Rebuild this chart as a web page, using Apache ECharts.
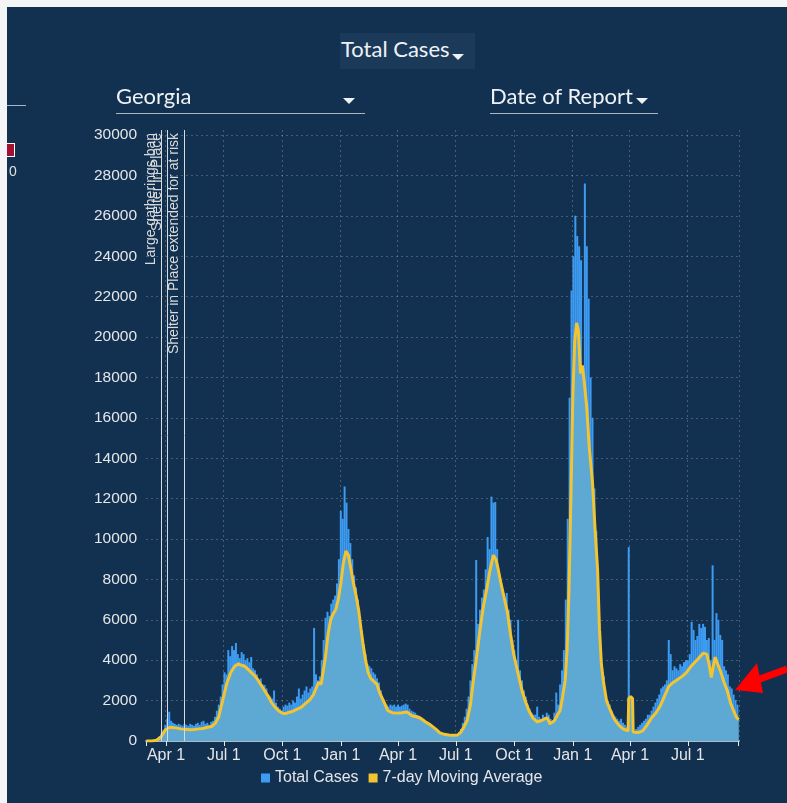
<!DOCTYPE html>
<html><head><meta charset="utf-8">
<script src="https://cdn.jsdelivr.net/npm/echarts@6/dist/echarts.min.js"></script>
<style>
html,body{margin:0;padding:0;background:#12304f;overflow:hidden;width:787px;height:803px;}
#chart{position:absolute;left:0;top:0;width:787px;height:803px;}
.strip{position:absolute;background:#f3f5f7;}
.ctl{position:absolute;font-family:Lato,sans-serif;color:#eef2f6;font-size:22px;line-height:1;white-space:nowrap;}
.tri{position:absolute;width:0;height:0;border-left:6px solid transparent;border-right:6px solid transparent;border-top:6px solid #eef2f6;}
.uline{position:absolute;height:1px;background:#a9b6c4;}
</style></head><body>
<div id="chart"></div>
<div class="strip" style="left:0;top:0;width:787px;height:7px;"></div>
<div class="strip" style="left:0;top:0;width:7px;height:803px;"></div>
<div style="position:absolute;left:340px;top:33px;width:135px;height:36px;background:#1b3a59;"></div>
<div class="ctl" style="left:341px;top:38px;">Total Cases</div>
<div class="tri" style="left:452px;top:54px;"></div>
<div class="ctl" style="left:116px;top:85px;">Georgia</div>
<div class="tri" style="left:343px;top:98px;"></div>
<div class="uline" style="left:116px;top:113px;width:249px;"></div>
<div class="ctl" style="left:490px;top:85px;">Date of Report</div>
<div class="tri" style="left:636px;top:98px;"></div>
<div class="uline" style="left:490px;top:113px;width:168px;"></div>
<div class="uline" style="left:7px;top:105px;width:19px;"></div>
<div style="position:absolute;left:7px;top:143px;width:7px;height:12px;background:#a3112e;border:1px solid #fff;border-left:none;"></div>
<div style="position:absolute;left:9px;top:163px;font:14px 'Liberation Sans',Arial,sans-serif;color:#e0e0e0;">0</div>
<svg style="position:absolute;left:0;top:0;" width="787" height="803">
  <line x1="787" y1="669" x2="752" y2="682" stroke="#ff0000" stroke-width="7"/>
  <polygon points="735,690 757,663 763,693" fill="#ff0000"/>
</svg>
<script>
// ---- data ----
const firstDate = '2020-03-01';
const lastDate = '2022-09-19';
const barStepDays = 3; // one bar value every 3 days starting at firstDate
const totalCases = [
  0, 0, 2, 8, 30, 60, 150, 250, 400, 550, 800,
  1100, 1450, 1000, 900, 850, 800, 850, 800, 750, 850,
  800, 750, 850, 800, 750, 850, 900, 800, 950, 1000,
  850, 900, 800, 950, 1000, 1200, 1500, 1800, 2200, 2800,
  3400, 3300, 4500, 4200, 4700, 4500, 4850, 4300, 4100, 4400,
  4300, 4000, 4100, 3900, 4160, 3600, 3500, 3300, 3000, 3100, 2800,
  2770, 2600, 2300, 2200, 2100, 2500, 1900, 1700, 1600, 1500,
  1700, 1800, 1750, 1900, 1800, 2000, 1900, 2200, 2600, 2100,
  2300, 2500, 2700, 2400, 2600, 2700, 5600, 3300, 3000, 3200,
  4000, 5000, 6100, 6400, 6200, 6800, 7000, 7200, 7800, 9000,
  11400, 11000, 12600, 11800, 10500, 9800, 9000, 8200, 7600, 7000, 6000,
  5500, 4800, 4300, 3800, 3700, 3600, 3400, 3300, 3100,
  2900, 2500, 2100, 1900, 1800, 1700, 1800, 1750, 1800, 1700,
  1800, 1700, 1750, 1800, 1850, 1800, 1600, 1500, 1450, 1400,
  1300, 1250, 1150, 1000, 900, 850, 750, 650, 550, 500, 450,
  400, 380, 350, 330, 320, 300, 300, 280, 300, 320,
  350, 450, 600, 900, 1200, 1600, 2200, 3000, 3800, 4500,
  8960, 5800, 6500, 7100, 7500, 8500, 10100, 9500, 12100, 11800,
  11830, 9500, 8300, 7500, 7000, 6900, 7330, 6500, 6000, 5000,
  4500, 4000, 6000, 3500, 3000, 2500, 2200, 1800, 1600, 1400, 1300,
  1300, 1700, 1200, 1100, 1300, 1200, 1400, 1300, 1100, 1000,
  1400, 2400, 1800, 2800, 3500, 4500, 7000, 11000, 17000, 22300,
  24000, 26000, 25000, 24500, 23800, 14400, 27600, 24500, 21900, 18000,
  16000, 12500, 10400, 7500, 5500, 3800, 3200, 2300, 2000, 1800,
  1500, 1300, 1200, 1100, 1000, 1100, 900, 800, 700, 9600,
  600, 550, 500, 600, 700, 800, 900, 1000, 1100, 1300,
  1300, 1500, 1700, 1900, 2100, 2300, 2600, 2700, 2800, 3000,
  5000, 4300, 3500, 3700, 3600, 3500, 3800, 3700, 3900, 4000,
  4000, 4300, 5900, 5500, 5000, 5200, 5800, 5600, 5800, 5650, 5000,
  5100, 4000, 8700, 5000, 6330, 6000, 5250, 5000, 3700, 3500,
  3300, 2700, 2600, 2300, 2030, 1800
];
const avgDates = [
  '2020-03-01','2020-03-10','2020-03-17','2020-03-24','2020-03-31','2020-04-07','2020-04-10','2020-04-17','2020-04-24',
  '2020-05-01','2020-05-08','2020-05-15','2020-05-22','2020-05-29','2020-06-05','2020-06-12','2020-06-18','2020-06-23',
  '2020-06-29','2020-07-06','2020-07-12','2020-07-18','2020-07-24','2020-07-29','2020-08-03','2020-08-08','2020-08-13',
  '2020-08-18','2020-08-23','2020-08-28','2020-09-03','2020-09-09','2020-09-14','2020-09-19','2020-09-25','2020-10-01',
  '2020-10-06','2020-10-11','2020-10-16','2020-10-21','2020-10-26','2020-10-31','2020-11-06','2020-11-13','2020-11-19',
  '2020-11-23','2020-11-27','2020-12-01','2020-12-04','2020-12-08','2020-12-12','2020-12-16','2020-12-20','2020-12-24',
  '2020-12-28','2021-01-01','2021-01-05','2021-01-09','2021-01-13','2021-01-17','2021-01-21','2021-01-25','2021-01-29',
  '2021-02-02','2021-02-05','2021-02-09','2021-02-13','2021-02-17','2021-02-22','2021-02-27','2021-03-03','2021-03-09',
  '2021-03-16','2021-03-23','2021-03-31','2021-04-07','2021-04-15','2021-04-23','2021-04-30','2021-05-06','2021-05-14',
  '2021-05-22','2021-05-30','2021-06-06','2021-06-13','2021-06-20','2021-06-27','2021-07-04','2021-07-08','2021-07-13',
  '2021-07-19','2021-07-24','2021-07-28','2021-08-02','2021-08-08','2021-08-13','2021-08-19','2021-08-24','2021-08-29',
  '2021-09-02','2021-09-05','2021-09-10','2021-09-15','2021-09-20','2021-09-25','2021-09-30','2021-10-05','2021-10-10',
  '2021-10-14','2021-10-18','2021-10-24','2021-10-30','2021-11-06','2021-11-12','2021-11-18','2021-11-22','2021-11-26',
  '2021-11-29','2021-12-03','2021-12-08','2021-12-12','2021-12-16','2021-12-20','2021-12-23','2021-12-26','2021-12-29',
  '2022-01-01','2022-01-04','2022-01-07','2022-01-10','2022-01-13','2022-01-16','2022-01-19','2022-01-23','2022-01-27',
  '2022-02-01','2022-02-05','2022-02-09','2022-02-12','2022-02-15','2022-02-18','2022-02-23','2022-02-28','2022-03-07',
  '2022-03-14','2022-03-21','2022-03-29','2022-03-30','2022-04-02','2022-04-05','2022-04-06','2022-04-14','2022-04-21',
  '2022-04-28','2022-05-05','2022-05-12','2022-05-18','2022-05-25','2022-06-01','2022-06-08','2022-06-15','2022-06-22',
  '2022-06-29','2022-07-06','2022-07-12','2022-07-18','2022-07-25','2022-07-31','2022-08-04','2022-08-07','2022-08-10',
  '2022-08-13','2022-08-17','2022-08-22','2022-08-27','2022-09-01','2022-09-06','2022-09-11','2022-09-15','2022-09-19'
];
const avgValues = [
  0, 5, 40, 200, 550, 680, 700, 650, 600,
  580, 560, 570, 600, 620, 680, 720, 900, 1200,
  2000, 2900, 3400, 3700, 3820, 3750, 3700, 3550, 3400,
  3250, 3050, 2800, 2500, 2200, 1900, 1700, 1500, 1380,
  1350, 1420, 1450, 1530, 1600, 1680, 1850, 2030, 2300,
  2600, 2900, 2800, 3400, 4200, 5300, 6000, 6300, 6500,
  7000, 7800, 8800, 9400, 9200, 8500, 7800, 7200, 6500,
  5500, 4800, 4000, 3400, 3100, 2950, 2800, 2400, 2000,
  1500, 1400, 1380, 1400, 1440, 1250, 1200, 1140, 950,
  800, 600, 400, 330, 300, 280, 300, 400, 650,
  1040, 1800, 2870, 4000, 5500, 6600, 7600, 8500, 9200,
  9000, 8600, 7800, 7100, 6400, 5300, 4300, 3600, 2900,
  2400, 2000, 1500, 1150, 950, 1000, 1100, 1150, 850,
  800, 1000, 1300, 1500, 2200, 3000, 4500, 7500, 12000,
  17000, 19800, 20700, 20300, 18200, 18600, 17800, 16500, 14500,
  12800, 10500, 8500, 5500, 3800, 3000, 2000, 1600, 1100,
  800, 600, 500, 2100, 2200, 2100, 450, 420, 500,
  800, 1150, 1400, 1700, 2200, 2700, 2900, 3050, 3200,
  3400, 3700, 3900, 4100, 4350, 4300, 3700, 3150, 3700,
  4150, 3800, 3400, 2900, 2500, 1900, 1500, 1200, 1050
];
const eventNames = ['Large gatherings ban', 'Shelter in Place', 'Shelter in Place extended for at risk'];
const eventDates = ['2020-03-24', '2020-04-03', '2020-04-30'];
const monthNames = ['Jan','Feb','Mar','Apr','May','Jun','Jul','Aug','Sep','Oct','Nov','Dec'];
const yMax = 30250, yStep = 2000;

// ---- build ----
const DAY = 86400000;
const toStr = t => new Date(t).toISOString().slice(0, 10);
const t0 = Date.parse(firstDate + 'T00:00:00Z');
const t1 = Date.parse(lastDate + 'T00:00:00Z');
const categories = [];
for (let t = t0; t <= t1; t += DAY) categories.push(toStr(t));
const barData = totalCases.map((v, i) => [toStr(t0 + i * barStepDays * DAY), v]);
const avgData = avgDates.map((d, i) => [d, avgValues[i]]);
const isQuarter = v => v.slice(8) === '01' && ['01','04','07','10'].indexOf(v.slice(5, 7)) >= 0;
const FONT = "'Liberation Sans', Arial, sans-serif";
const txt = '#e4e6e8';
const gridCol = 'rgba(255,255,255,0.22)';

const chart = echarts.init(document.getElementById('chart'), null, {renderer: 'canvas'});
chart.setOption({
  backgroundColor: '#12304f',
  animation: false,
  grid: {left: 146, right: 48, top: 130, bottom: 62},
  legend: {
    data: ['Total Cases', '7-day Moving Average'],
    left: 256, top: 765, icon: 'rect', itemWidth: 9, itemHeight: 9, itemGap: 10,
    selectedMode: false,
    textStyle: {color: txt, fontSize: 16, fontFamily: FONT}
  },
  xAxis: {
    type: 'category', data: categories, boundaryGap: true,
    axisLine: {lineStyle: {color: '#e8e8e8', width: 1.5}},
    axisTick: {show: true, alignWithLabel: true, length: 5,
      interval: (i, v) => i === 0 || i === categories.length - 1 || isQuarter(v),
      lineStyle: {color: '#e8e8e8'}},
    axisLabel: {interval: (i, v) => isQuarter(v),
      formatter: v => monthNames[+v.slice(5, 7) - 1] + ' 1',
      color: txt, fontSize: 16, fontFamily: FONT, margin: 7},
    splitLine: {show: true, interval: (i, v) => isQuarter(v),
      lineStyle: {color: gridCol, type: [2, 3]}}
  },
  yAxis: {
    type: 'value', min: 0, max: yMax, interval: yStep,
    axisLine: {show: false}, axisTick: {show: false},
    axisLabel: {color: txt, fontSize: 15.5, fontFamily: FONT, margin: 9, showMaxLabel: false,
      formatter: v => (v % yStep === 0 ? String(v) : '')},
    splitLine: {show: true, showMinLine: false, showMaxLine: false,
      lineStyle: {color: gridCol, type: [2, 3]}}
  },
  series: [
    {
      name: 'Total Cases', type: 'bar', data: barData, barWidth: 2,
      itemStyle: {color: '#3d9cf2'}, z: 2, silent: true
    },
    {
      name: '7-day Moving Average', type: 'line', data: avgData, symbol: 'none',
      lineStyle: {color: '#f4c430', width: 3}, itemStyle: {color: '#f4c430'},
      areaStyle: {color: '#5ea8d4', opacity: 1}, z: 3, silent: true,
      markLine: {
        symbol: 'none', silent: true, z: 6,
        lineStyle: {color: '#d8dadc', width: 1, type: 'solid'},
        label: {show: true, position: 'insideEndTop', distance: 3, color: '#d8dadc',
          fontSize: 14, fontFamily: FONT, formatter: p => p.name},
        data: eventDates.map((d, i) => ({name: eventNames[i], xAxis: d}))
      }
    }
  ]
});
</script>
</body></html>
